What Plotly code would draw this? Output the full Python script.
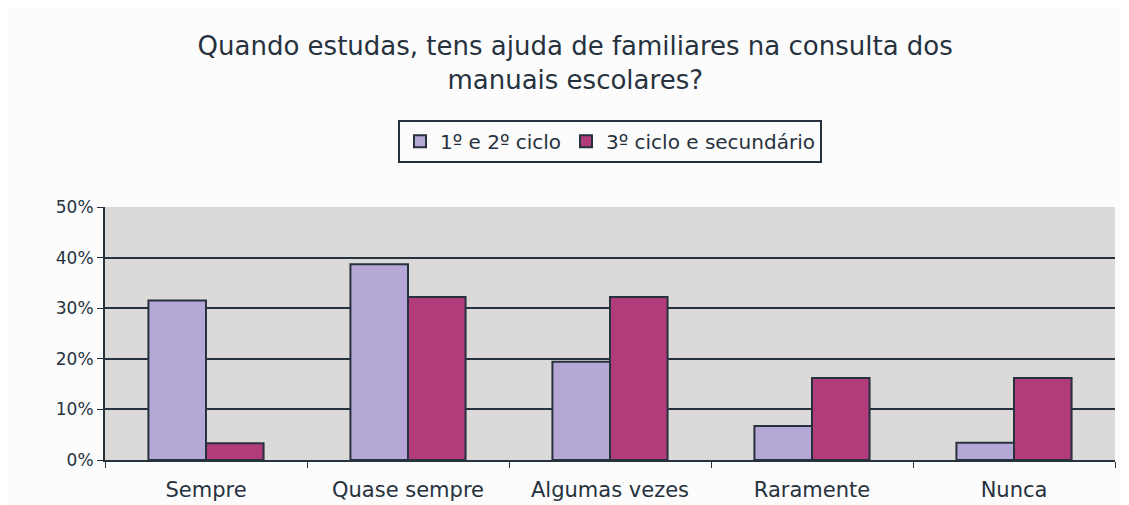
import plotly.graph_objects as go

# --- data ---
categories = ["Sempre", "Quase sempre", "Algumas vezes", "Raramente", "Nunca"]
ciclo_1_2 = [31.5, 38.7, 19.4, 6.7, 3.4]
ciclo_3_sec = [3.3, 32.2, 32.2, 16.2, 16.2]
series_names = ["1º e 2º ciclo", "3º ciclo e secundário"]
y_ticks = [0, 10, 20, 30, 40, 50]
y_tick_labels = ["0%", "10%", "20%", "30%", "40%", "50%"]

FONT = "DejaVu Sans"
DARK = "#26323e"
BG = "#fdfcfc"

# page body has an 8px margin, so the figure is sized to fill the rest of the window
W, H = 1121, 497

fig = go.Figure()
fig.add_trace(go.Bar(
    x=categories, y=ciclo_1_2, name=series_names[0],
    marker=dict(color="#b5a8d6", line=dict(color=DARK, width=2)),
))
fig.add_trace(go.Bar(
    x=categories, y=ciclo_3_sec, name=series_names[1],
    marker=dict(color="#b23b7c", line=dict(color=DARK, width=2)),
))

fig.update_layout(
    width=W, height=H,
    margin=dict(l=97, r=14, t=199, b=45),
    paper_bgcolor=BG,
    plot_bgcolor="#dcdad8",
    barmode="group",
    bargap=0.43,
    bargroupgap=0,
    font=dict(family=FONT, color=DARK),
    title=dict(
        text="Quando estudas, tens ajuda de familiares na consulta dos<br>manuais escolares?",
        x=0.506, xanchor="center", xref="container",
        y=0.906, yanchor="middle", yref="container",
        font=dict(family=FONT, size=26, color=DARK),
    ),
    legend=dict(
        orientation="h",
        x=0.5, xanchor="center",
        y=1.345, yanchor="top",
        bordercolor=DARK, borderwidth=2,
        bgcolor=BG,
        font=dict(family=FONT, size=20, color=DARK),
        traceorder="normal",
        itemwidth=30,
    ),
    showlegend=True,
)

fig.update_xaxes(
    automargin=False,
    showline=True, linecolor=DARK, linewidth=2,
    ticks="outside", tickson="boundaries", ticklen=6, tickcolor=DARK,
    ticklabelstandoff=10,
    tickfont=dict(family=FONT, size=21, color=DARK),
    showgrid=False,
)
fig.update_yaxes(
    automargin=False,
    range=[0, 50],
    tickvals=y_ticks, ticktext=y_tick_labels,
    showline=True, linecolor=DARK, linewidth=2,
    ticks="outside", ticklen=6, tickcolor=DARK,
    tickfont=dict(family=FONT, size=17, color=DARK),
    showgrid=True, gridcolor=DARK, gridwidth=2,
    zeroline=False,
)

fig.write_html("out.html")
